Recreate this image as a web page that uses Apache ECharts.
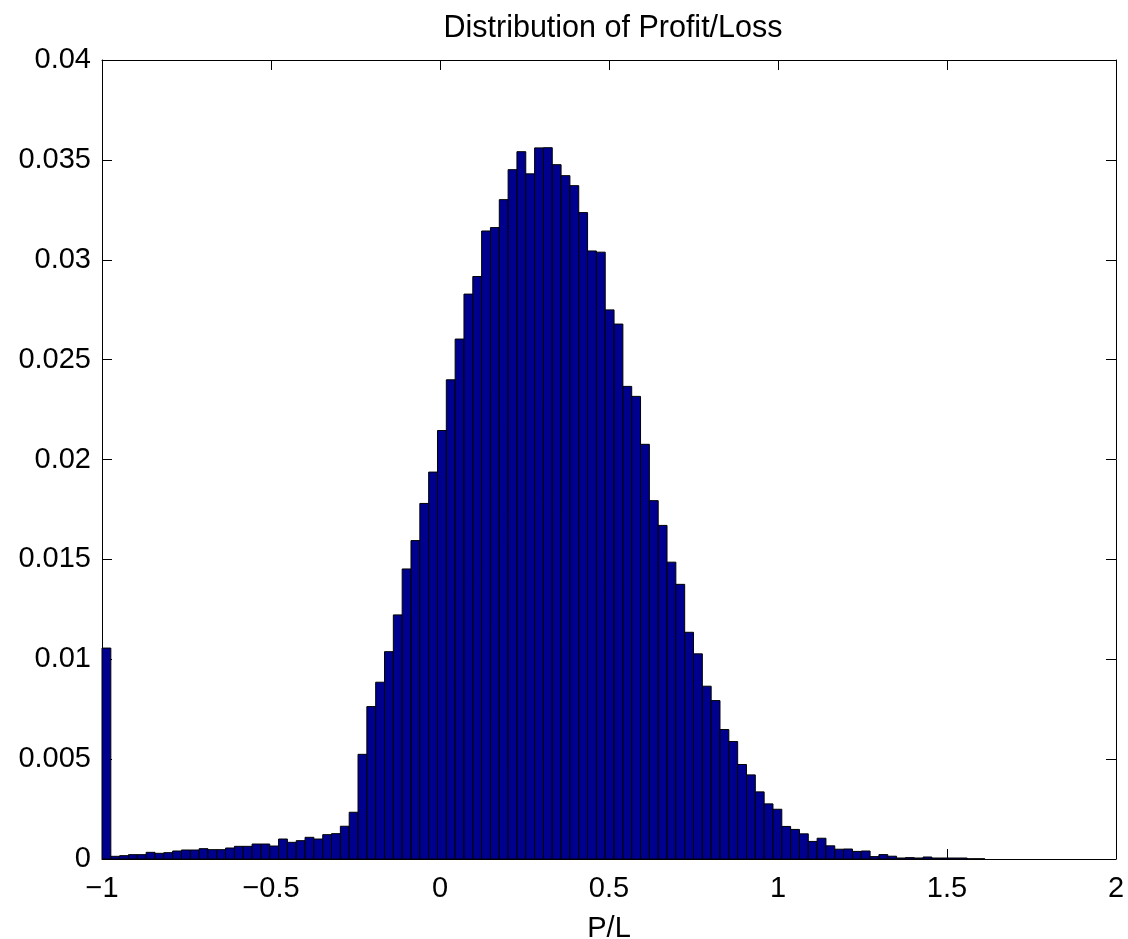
<!DOCTYPE html>
<html>
<head>
<meta charset="utf-8">
<title>Distribution of Profit/Loss</title>
<script src="https://cdn.jsdelivr.net/npm/echarts@6/dist/echarts.min.js"></script>
<style>
  html, body { margin: 0; padding: 0; background: #fff; }
  #chart { width: 1128px; height: 939px; }
</style>
</head>
<body>
<div id="chart"></div>
<script>
// Histogram of simulated P/L: 100 equal-width bins starting at -1,
// heights are relative frequencies (they sum to ~1).
const binStart = -1;
const binWidth = 0.02612;
const relFreq = [
  0.01056, 0.000134, 0.000167, 0.000217, 0.000217, 0.000334, 0.000284, 0.000317, 0.0004, 0.00045,
  0.00045, 0.000517, 0.000467, 0.000467, 0.00055, 0.000634, 0.000634, 0.00075, 0.00075, 0.00065,
  0.001, 0.000834, 0.000918, 0.001085, 0.001, 0.001218, 0.001268, 0.00164, 0.00234, 0.00524,
  0.00763, 0.00885, 0.01038, 0.01222, 0.01452, 0.01594, 0.0178, 0.01937, 0.02145, 0.02399,
  0.02603, 0.02828, 0.02916, 0.03144, 0.03161, 0.03301, 0.03451, 0.03541, 0.0343, 0.0356,
  0.03561, 0.03476, 0.03421, 0.03371, 0.03236, 0.03044, 0.03038, 0.02749, 0.02678, 0.02366,
  0.02316, 0.02076, 0.01794, 0.0167, 0.01486, 0.01375, 0.01135, 0.01027, 0.00865, 0.00793,
  0.00648, 0.00588, 0.00473, 0.00421, 0.00336, 0.00276, 0.00249, 0.00163, 0.00148, 0.00126,
  0.00088, 0.00104, 0.00066, 0.00049, 0.0005, 0.00038, 0.0004, 0.00012, 0.00022, 0.00014,
  0.00005, 0.00007, 0.00005, 0.0001, 0.00005, 0.00005, 0.00005, 0.00005, 0.00001, 0.00001
];

// Axis ranges and tick steps
const xMin = -1, xMax = 2, xStep = 0.5;
const yMin = 0, yMax = 0.04, yStep = 0.005;

const titleText = 'Distribution of Profit/Loss';
const xName = 'P/L';

// Each bin as [left edge, right edge, height]
const bins = relFreq.map((h, i) => [binStart + i * binWidth, binStart + (i + 1) * binWidth, h]);

const FONT = '"Liberation Sans", Arial, Helvetica, sans-serif';
const LABEL_SIZE = 29;

function fmtX(v) {
  const s = String(Math.round(v * 10) / 10);
  return s.replace('-', '\u2212');
}

const chart = echarts.init(document.getElementById('chart'), null, { renderer: 'canvas' });

const boxAxis = {
  axisLine: { show: true, onZero: false, lineStyle: { color: '#000', width: 1 } },
  axisTick: { show: true, inside: true, length: 10, lineStyle: { color: '#000', width: 1 } },
  splitLine: { show: false }
};

chart.setOption({
  animation: false,
  backgroundColor: '#fff',
  title: {
    text: titleText,
    left: 608,
    top: 8,
    textAlign: 'center',
    textStyle: { fontFamily: FONT, fontSize: 30.5, fontWeight: 'normal', color: '#000' }
  },
  grid: {
    left: 102, right: 12, top: 60, bottom: 80,
    containLabel: false,
    outerBoundsMode: 'none'
  },
  xAxis: [
    Object.assign({
      type: 'value', position: 'bottom', min: xMin, max: xMax, interval: xStep,
      name: xName, nameLocation: 'middle', nameGap: 55,
      nameTextStyle: { fontFamily: FONT, fontSize: LABEL_SIZE, color: '#000' },
      axisLabel: { show: true, margin: 15, fontFamily: FONT, fontSize: LABEL_SIZE, color: '#000', formatter: fmtX }
    }, boxAxis),
    Object.assign({
      type: 'value', position: 'top', min: xMin, max: xMax, interval: xStep,
      axisLabel: { show: false }
    }, boxAxis)
  ],
  yAxis: [
    Object.assign({
      type: 'value', position: 'left', min: yMin, max: yMax, interval: yStep,
      axisLabel: { show: true, margin: 11, fontFamily: FONT, fontSize: LABEL_SIZE, color: '#000' }
    }, boxAxis),
    Object.assign({
      type: 'value', position: 'right', min: yMin, max: yMax, interval: yStep,
      axisLabel: { show: false }
    }, boxAxis)
  ],
  series: [{
    type: 'custom',
    xAxisIndex: 0,
    yAxisIndex: 0,
    encode: { x: [0, 1], y: 2 },
    data: bins,
    renderItem: function (params, api) {
      const topLeft = api.coord([api.value(0), api.value(2)]);
      const bottomRight = api.coord([api.value(1), 0]);
      return {
        type: 'rect',
        shape: {
          x: topLeft[0],
          y: topLeft[1],
          width: bottomRight[0] - topLeft[0],
          height: bottomRight[1] - topLeft[1]
        },
        style: { fill: '#00008F', stroke: '#000', lineWidth: 1 }
      };
    }
  }]
});
</script>
</body>
</html>
